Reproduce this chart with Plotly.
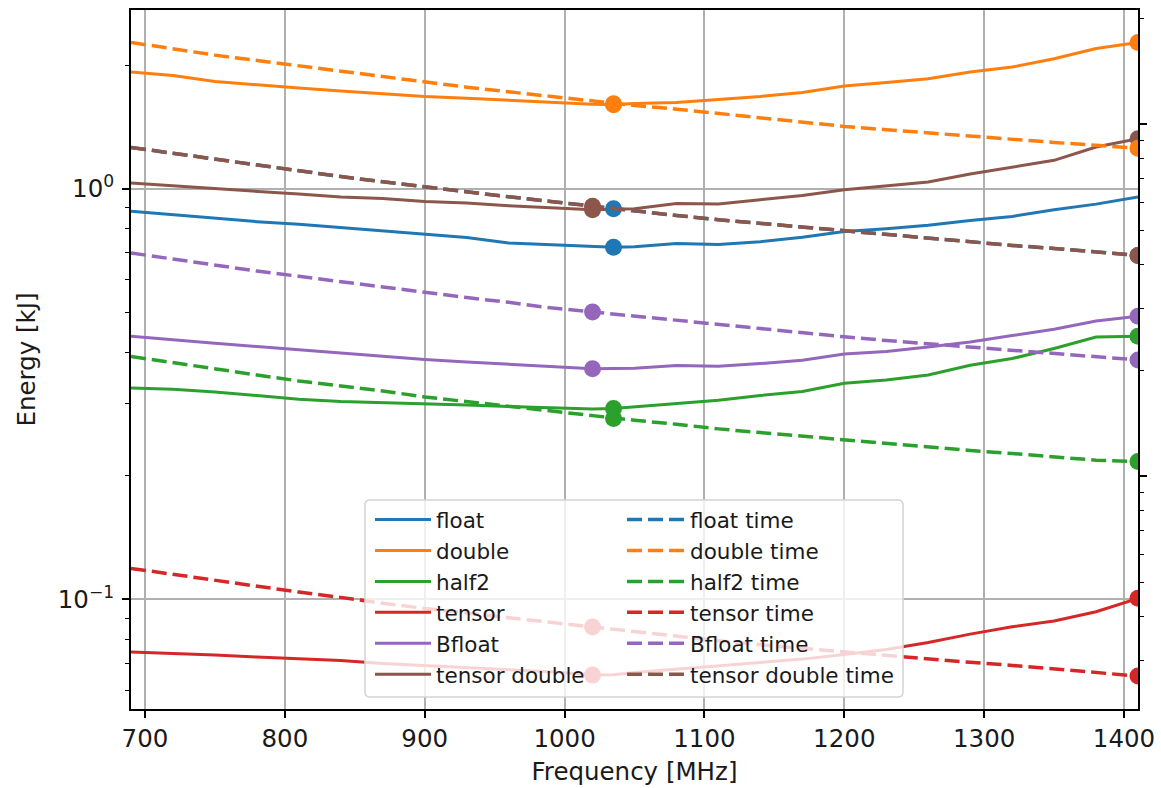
import plotly.graph_objects as go

# Clock frequencies sampled [MHz]
freq = [690, 720, 750, 780, 810, 840, 870, 900, 930, 960, 990, 1020, 1035,
        1050, 1080, 1110, 1140, 1170, 1200, 1230, 1260, 1290, 1320, 1350, 1380, 1410]

# Energy per run [kJ] (left axis)
float_energy = [0.881, 0.864, 0.847, 0.831, 0.819, 0.804, 0.790, 0.774, 0.760, 0.737, 0.729, 0.722, 0.720,
                0.722, 0.735, 0.731, 0.743, 0.762, 0.786, 0.799, 0.815, 0.837, 0.856, 0.889, 0.917, 0.954]
double_energy = [1.922, 1.887, 1.824, 1.789, 1.758, 1.730, 1.703, 1.677, 1.660, 1.642, 1.618, 1.605, 1.601,
                 1.613, 1.622, 1.650, 1.677, 1.715, 1.777, 1.814, 1.852, 1.924, 1.977, 2.072, 2.195, 2.270]
half2_energy = [0.3272, 0.3248, 0.3199, 0.3128, 0.3071, 0.3032, 0.3014, 0.2997, 0.2974, 0.2947, 0.2931, 0.2908, 0.2914,
                0.2941, 0.2997, 0.3055, 0.3136, 0.3207, 0.3360, 0.3423, 0.3520, 0.3716, 0.3858, 0.4080, 0.4355, 0.4372]
tensor_energy = [0.07441, 0.07386, 0.07317, 0.07235, 0.07154, 0.07102, 0.06983, 0.06905, 0.06812, 0.06730, 0.06662, 0.06540, 0.06551,
                 0.06641, 0.06767, 0.06893, 0.07025, 0.07154, 0.07344, 0.07551, 0.07854, 0.08231, 0.08578, 0.08857, 0.09329, 0.1006]
bfloat_energy = [0.4372, 0.4282, 0.4201, 0.4127, 0.4051, 0.3981, 0.3908, 0.3836, 0.3785, 0.3735, 0.3684, 0.3644, 0.3650,
                 0.3654, 0.3710, 0.3695, 0.3752, 0.3822, 0.3960, 0.4013, 0.4116, 0.4232, 0.4388, 0.4546, 0.4763, 0.4890]
tensor_double_energy = [1.032, 1.017, 1.000, 0.985, 0.970, 0.954, 0.947, 0.931, 0.923, 0.909, 0.899, 0.889, 0.891,
                        0.894, 0.920, 0.918, 0.940, 0.962, 0.994, 1.016, 1.038, 1.086, 1.129, 1.172, 1.263, 1.323]

# Run time [s] (right axis)
float_time = [8.60, 8.28, 7.96, 7.65, 7.36, 7.11, 6.87, 6.64, 6.43, 6.23, 6.04, 5.85, 5.76,
              5.67, 5.51, 5.36, 5.23, 5.10, 4.98, 4.86, 4.75, 4.64, 4.53, 4.44, 4.34, 4.24]
double_time = [17.10, 16.37, 15.74, 15.20, 14.68, 14.17, 13.69, 13.16, 12.76, 12.38, 12.01, 11.65, 11.45,
               11.32, 11.05, 10.75, 10.45, 10.15, 9.87, 9.66, 9.45, 9.26, 9.07, 8.89, 8.72, 8.55]
half2_time = [2.189, 2.099, 2.014, 1.940, 1.865, 1.810, 1.747, 1.680, 1.630, 1.581, 1.533, 1.487, 1.458,
              1.442, 1.405, 1.363, 1.330, 1.299, 1.266, 1.235, 1.209, 1.183, 1.160, 1.137, 1.110, 1.101]
tensor_time = [0.5469, 0.5257, 0.5064, 0.4870, 0.4683, 0.4523, 0.4350, 0.4209, 0.4074, 0.3958, 0.3841, 0.3724, 0.3669,
               0.3604, 0.3504, 0.3405, 0.3317, 0.3240, 0.3162, 0.3101, 0.3027, 0.2956, 0.2898, 0.2834, 0.2761, 0.2702]
bfloat_time = [4.31, 4.14, 3.98, 3.83, 3.70, 3.57, 3.45, 3.32, 3.22, 3.12, 3.01, 2.93, 2.89,
               2.85, 2.77, 2.70, 2.62, 2.55, 2.49, 2.43, 2.38, 2.33, 2.28, 2.23, 2.18, 2.14]
tensor_double_time = [8.60, 8.28, 7.96, 7.65, 7.36, 7.11, 6.87, 6.64, 6.43, 6.23, 6.04, 5.85, 5.76,
                      5.67, 5.51, 5.36, 5.23, 5.10, 4.98, 4.86, 4.75, 4.64, 4.53, 4.44, 4.34, 4.24]

# Series names, colours, energy-optimal clock and whether the max clock is marked
names = ["float", "double", "half2", "tensor", "Bfloat", "tensor double"]
energies = [float_energy, double_energy, half2_energy, tensor_energy, bfloat_energy, tensor_double_energy]
times = [float_time, double_time, half2_time, tensor_time, bfloat_time, tensor_double_time]
colors = ["#1f77b4", "#ff7f0e", "#2ca02c", "#d62728", "#9467bd", "#8c564b"]
opt_freq = [1035, 1035, 1035, 1020, 1020, 1020]
mark_max_energy = [False, True, True, True, True, True]
mark_max_time = [True, True, True, True, True, True]

W, H = 1161, 788
ML, MR, MT, MB = 131, 23, 10, 79
PW, PH = W - ML - MR, H - MT - MB

FONT = "DejaVu Sans"
TXT = "#1a1a1a"


def px_x(x):
    return (x - ML) / PW


def px_y(y):
    return (H - MB - y) / PH


def marked(xs, ys, flags):
    idx = [xs.index(f) for f in flags]
    return [xs[i] for i in idx], [ys[i] for i in idx]


fig = go.Figure()

# Energy curves (solid, left axis)
for n, e, c, fo, me in zip(names, energies, colors, opt_freq, mark_max_energy):
    fig.add_trace(go.Scatter(x=freq, y=e, name=n, mode="lines", yaxis="y",
                             line=dict(color=c, width=3), legend="legend"))
    pts = [fo] + ([freq[-1]] if me else [])
    mx, my = marked(freq, e, pts)
    fig.add_trace(go.Scatter(x=mx, y=my, mode="markers", yaxis="y", showlegend=False,
                             marker=dict(color=c, size=17), hoverinfo="skip"))

# Run-time curves (dashed, right axis)
for n, t, c, fo, mt in zip(names, times, colors, opt_freq, mark_max_time):
    fig.add_trace(go.Scatter(x=freq, y=t, name=n + " time", mode="lines", yaxis="y2",
                             line=dict(color=c, width=3.5, dash="15px,6px"), legend="legend2"))
    pts = [fo] + ([freq[-1]] if mt else [])
    mx, my = marked(freq, t, pts)
    fig.add_trace(go.Scatter(x=mx, y=my, mode="markers", yaxis="y2", showlegend=False,
                             marker=dict(color=c, size=17), hoverinfo="skip"))

# Legend frame (rounded, semi-transparent)
x0, x1 = px_x(365), px_x(903)
y0, y1 = px_y(697), px_y(500)
rx, ry = 5 / PW, 5 / PH
frame = (f"M{x0+rx},{y1} L{x1-rx},{y1} Q{x1},{y1} {x1},{y1-ry} "
         f"L{x1},{y0+ry} Q{x1},{y0} {x1-rx},{y0} "
         f"L{x0+rx},{y0} Q{x0},{y0} {x0},{y0+ry} "
         f"L{x0},{y1-ry} Q{x0},{y1} {x0+rx},{y1} Z")
fig.add_shape(type="path", path=frame, xref="paper", yref="paper", layer="above",
              fillcolor="rgba(255,255,255,0.8)", line=dict(color="#d4d4d4", width=1.5))

tick_font = dict(family=FONT, size=24.5, color=TXT)
leg_font = dict(family=FONT, size=21.5, color=TXT)

left_minor = [0.06, 0.07, 0.08, 0.09] + [k / 10 for k in range(2, 10)] + [2]
right_minor = [k / 10 for k in range(3, 10)] + list(range(2, 10)) + [20]

fig.update_layout(
    width=W, height=H,
    margin=dict(l=ML, r=MR, t=MT, b=MB, autoexpand=False),
    paper_bgcolor="white", plot_bgcolor="white",
    font=dict(family=FONT, color=TXT),
    showlegend=True,
    xaxis=dict(
        range=[690, 1410], tickvals=[700, 800, 900, 1000, 1100, 1200, 1300, 1400],
        ticks="outside", ticklen=7, tickwidth=1.6, tickcolor="black",
        tickfont=tick_font, ticklabelstandoff=0,
        showline=True, linecolor="black", linewidth=1.8, mirror=True,
        showgrid=True, gridcolor="#b0b0b0", gridwidth=1.5, zeroline=False,
        title=dict(text="Frequency [MHz]", font=tick_font, standoff=11),
        automargin=False,
    ),
    yaxis=dict(
        type="log", range=[-1.2669, 0.4350],
        tickvals=[0.1, 1], ticktext=["10<sup>\u22121</sup>", "10<sup>0</sup>"],
        ticks="outside", ticklen=7, tickwidth=1.6, tickcolor="black",
        tickfont=tick_font, ticklabelstandoff=3,
        minor=dict(tickvals=left_minor, ticks="outside", ticklen=4, tickwidth=1.2,
                   tickcolor="black", showgrid=False),
        showline=True, linecolor="black", linewidth=1.8, mirror=True,
        showgrid=True, gridcolor="#b0b0b0", gridwidth=1.5, zeroline=False,
        title=dict(text="Energy [kJ]", font=tick_font, standoff=15),
        automargin=False,
    ),
    yaxis2=dict(
        type="log", range=[-0.6619, 1.3253], overlaying="y", side="right",
        tickvals=[1, 10], ticktext=["10<sup>0</sup>", "10<sup>1</sup>"],
        ticks="outside", ticklen=7, tickwidth=1.6, tickcolor="black",
        tickfont=tick_font, ticklabelstandoff=14,
        minor=dict(tickvals=right_minor, ticks="outside", ticklen=4, tickwidth=1.2,
                   tickcolor="black", showgrid=False),
        showline=True, linecolor="black", linewidth=1.8,
        showgrid=False, zeroline=False, automargin=False,
    ),
    legend=dict(x=px_x(370), y=px_y(499), xanchor="left", yanchor="top",
                bgcolor="rgba(0,0,0,0)", borderwidth=0, font=leg_font,
                itemwidth=56, tracegroupgap=0),
    legend2=dict(x=px_x(622), y=px_y(499), xanchor="left", yanchor="top",
                 bgcolor="rgba(0,0,0,0)", borderwidth=0, font=leg_font,
                 itemwidth=58, tracegroupgap=0),
)

fig.write_html("out.html")
